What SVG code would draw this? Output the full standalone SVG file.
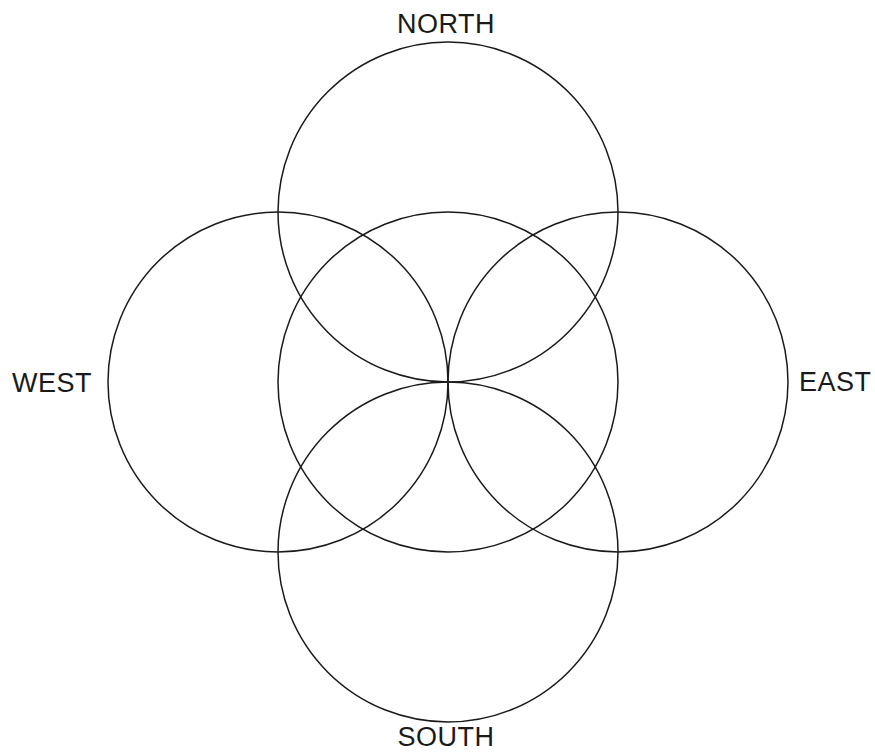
<svg xmlns="http://www.w3.org/2000/svg" width="875" height="753" viewBox="0 0 875 753">
<style>
.c{fill:none;stroke:#1a1a1a;stroke-width:1.5}
.t{font-family:"Liberation Sans",Arial,sans-serif;font-size:27px;fill:#1a1a1a;letter-spacing:0.5px}
</style>
<rect width="875" height="753" fill="#fff"/>
<g id="connectors"></g>
<g id="center"><circle class="c" cx="448" cy="382" r="170"/></g>
<g id="north"><circle class="c" cx="448" cy="212" r="170"/><text class="t" x="446" y="33" text-anchor="middle">NORTH</text></g>
<g id="south"><circle class="c" cx="448" cy="552" r="170"/><text class="t" x="446" y="746" text-anchor="middle">SOUTH</text></g>
<g id="west"><circle class="c" cx="278" cy="382" r="170"/><text class="t" x="12" y="392">WEST</text></g>
<g id="east"><circle class="c" cx="618" cy="382" r="170"/><text class="t" x="799" y="391">EAST</text></g>
</svg>
